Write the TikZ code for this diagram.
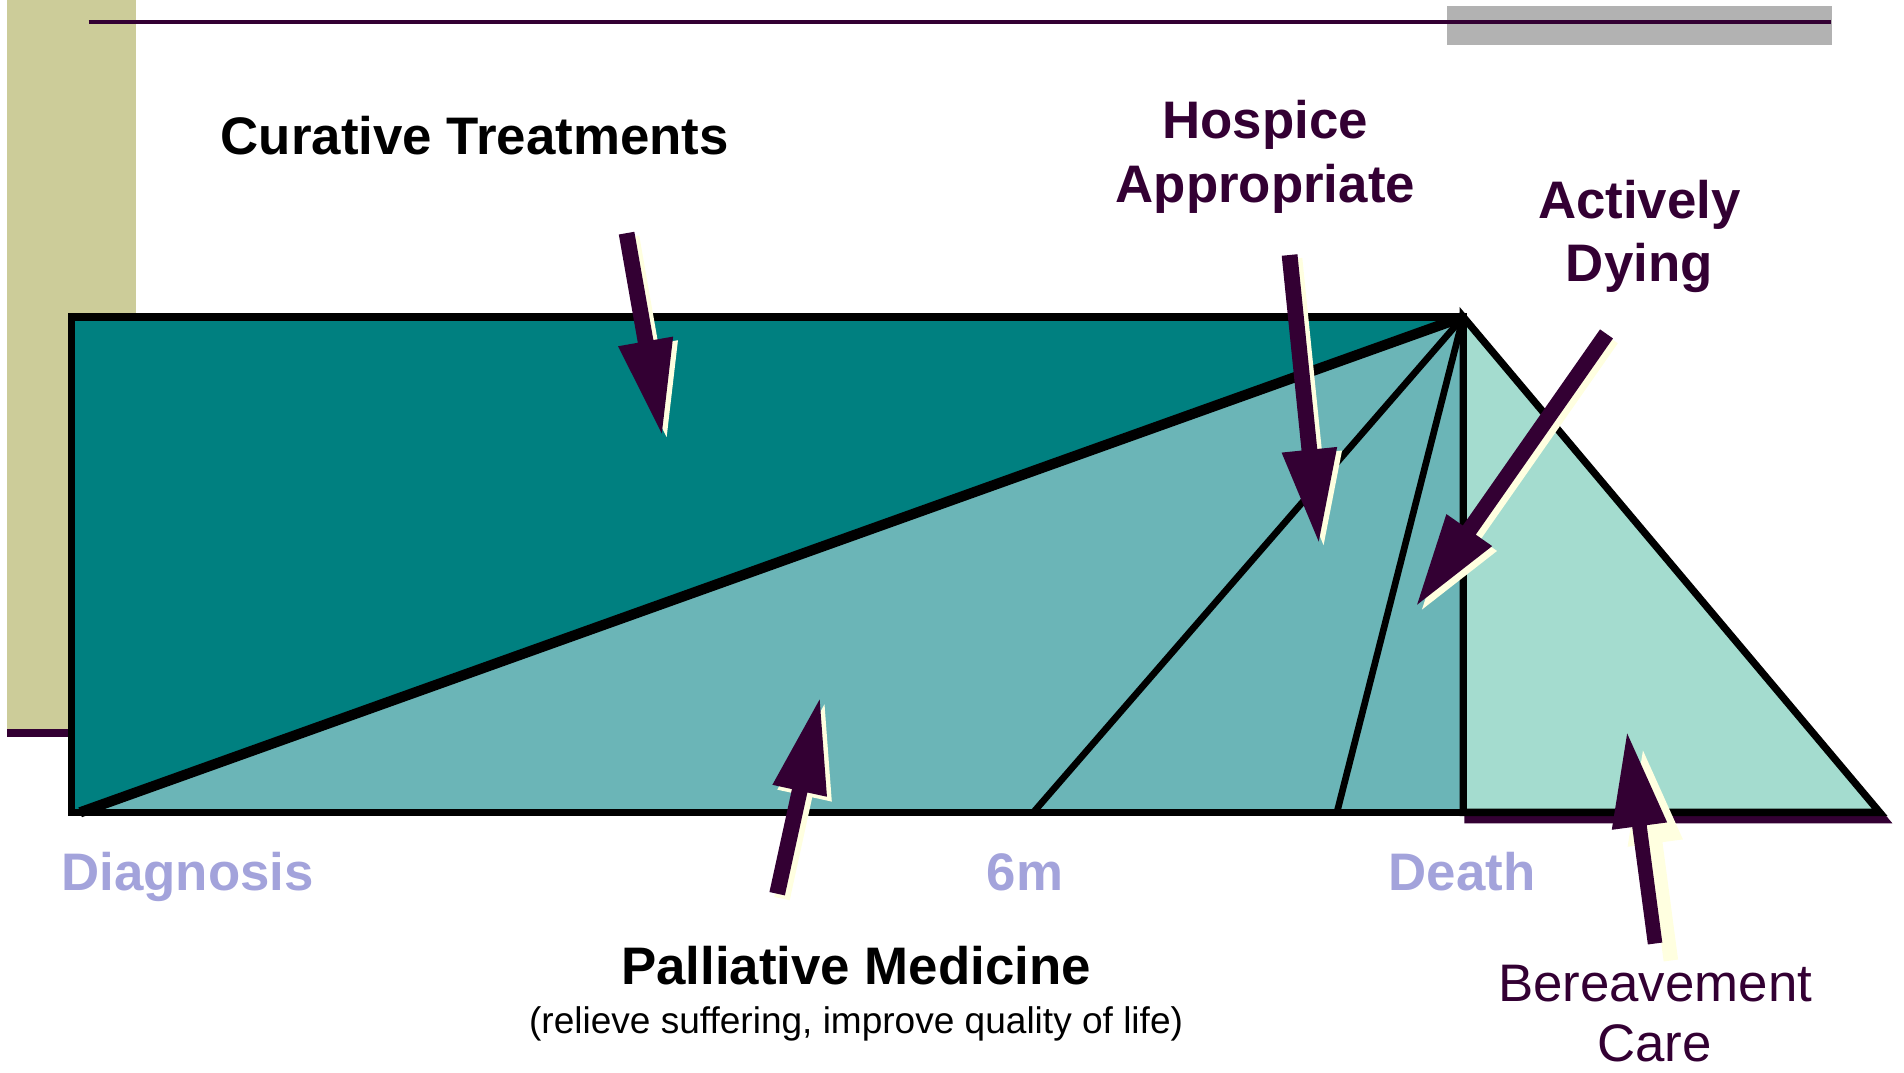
\documentclass[tikz,border=0pt]{standalone}
\usepackage{fontspec}
\setmainfont{Liberation Sans}
\usetikzlibrary{calc}
\definecolor{tealdark}{HTML}{008080}
\definecolor{tealmid}{HTML}{6BB5B7}
\definecolor{mint}{HTML}{A4DCCF}
\definecolor{lav}{HTML}{A3A3DB}
\definecolor{plum}{HTML}{330033}
\definecolor{sidetan}{HTML}{CCCC99}
\definecolor{bargray}{HTML}{B2B2B2}
\definecolor{shad}{HTML}{FFFFE0}
% #1 style, #2 start, #3 tip, #4 half shaft width, #5 half head width, #6 head length
\newcommand\fatpoly[6]{%
  \coordinate (#2-hb) at ($(#3)!#6pt!(#2)$);
  \fill[#1] ($(#2)!#4pt!90:(#3)$) -- ($(#2-hb)!#4pt!90:(#3)$) -- ($(#2-hb)!#5pt!90:(#3)$)
    -- (#3) -- ($(#2-hb)!#5pt!-90:(#3)$) -- ($(#2-hb)!#4pt!-90:(#3)$) -- ($(#2)!#4pt!-90:(#3)$) -- cycle;
}
\newcommand\fatarrow[7]{% start, tip, half shaft, half head, head len, shadow dx, shadow dy
  \fatpoly{shad, transform canvas={shift={(#6,#7)}}}{#1}{#2}{#3}{#4}{#5}
  \fatpoly{plum}{#1}{#2}{#3}{#4}{#5}
}
\tikzset{
  lblb/.style={font=\fontsize{43.5}{52}\selectfont\bfseries, anchor=base, inner sep=0pt},
  lblr/.style={font=\fontsize{43.5}{52}\selectfont, anchor=base, inner sep=0pt},
  lblsmall/.style={font=\fontsize{30.5}{36}\selectfont, anchor=base, inner sep=0pt},
  edge/.style={draw=black, line width=6pt, line join=miter},
}
\begin{document}
\begin{tikzpicture}[x=1pt,y=-1pt]
\useasboundingbox (0,0) rectangle (1568,883);
% decorations
\fill[sidetan] (6,0) rectangle (112,600);
\fill[plum] (6,600) rectangle (112,607);
\fill[bargray] (1192,5) rectangle (1509,37);
\coordinate (hl0) at (73,18);
\coordinate (hl1) at (1508,18);
\draw[plum, line width=3.5pt] (hl0) -- (hl1);
% key points
\coordinate (TL) at (59,261);
\coordinate (TR) at (1205,261);
\coordinate (BL) at (59,669);
\coordinate (BR) at (1205,669);
\coordinate (D0) at (66,669);
\coordinate (M6) at (851,669);
\coordinate (MD) at (1101,669);
\coordinate (TRI) at (1548,669);
% fills
\fill[tealdark] (TL) rectangle (BR);
\fill[tealmid] (D0) -- (TR) -- (BR) -- cycle;
% bereavement triangle with shadow
\filldraw[plum, line width=6pt, line join=miter, transform canvas={shift={(4,6)}}] (TR) -- (TRI) -- (BR) -- cycle;
\filldraw[fill=mint, edge] (TR) -- (TRI) -- (BR) -- cycle;
% outline and dividers
\draw[edge] (TL) rectangle (BR);
\draw[edge, line width=5.5pt] (M6) -- (TR);
\draw[edge, line width=5.5pt] (MD) -- (TR);
\draw[edge, line width=8.5pt] (D0) -- (TR);
% arrows
\coordinate (ctS) at (516,192);  \coordinate (ctT) at (545,357);
\coordinate (haS) at (1062,210); \coordinate (haT) at (1086,446);
\coordinate (adS) at (1323,275); \coordinate (adT) at (1167,498);
\coordinate (pmS) at (640,736);  \coordinate (pmT) at (675,576);
\coordinate (bcS) at (1363,777); \coordinate (bcT) at (1340,604);
\fatarrow{ctS}{ctT}{6.5}{23}{77}{4}{3}
\fatarrow{haS}{haT}{6.5}{23}{76}{4}{3}
\fatarrow{adS}{adT}{6.5}{23}{75}{4}{4}
\fatarrow{pmS}{pmT}{6.5}{23}{77}{4}{4}
\fatarrow{bcS}{bcT}{6}{23}{77}{13}{14}
% labels
\node[lblb, text=black] (ct) at (391,127) {Curative Treatments};
\node[lblb, text=plum] (ha1) at (1042,114) {Hospice};
\node[lblb, text=plum] (ha2) at (1042,166.5) {Appropriate};
\node[lblb, text=plum] (ad1) at (1350,180) {Actively};
\node[lblb, text=plum] (ad2) at (1350,232) {Dying};
\node[lblb, text=lav] (dg) at (154.5,733) {Diagnosis};
\node[lblb, text=lav] (sm) at (844,733) {6m};
\node[lblb, text=lav] (dt) at (1204,733) {Death};
\node[lblb, text=black] (pm1) at (705,811) {Palliative Medicine};
\node[lblsmall, text=black] (pm2) at (705,851) {(relieve suffering, improve quality of life)};
\node[lblr, text=plum] (bc1) at (1363,825) {Bereavement};
\node[lblr, text=plum] (bc2) at (1362.5,874) {Care};
\end{tikzpicture}
\end{document}
